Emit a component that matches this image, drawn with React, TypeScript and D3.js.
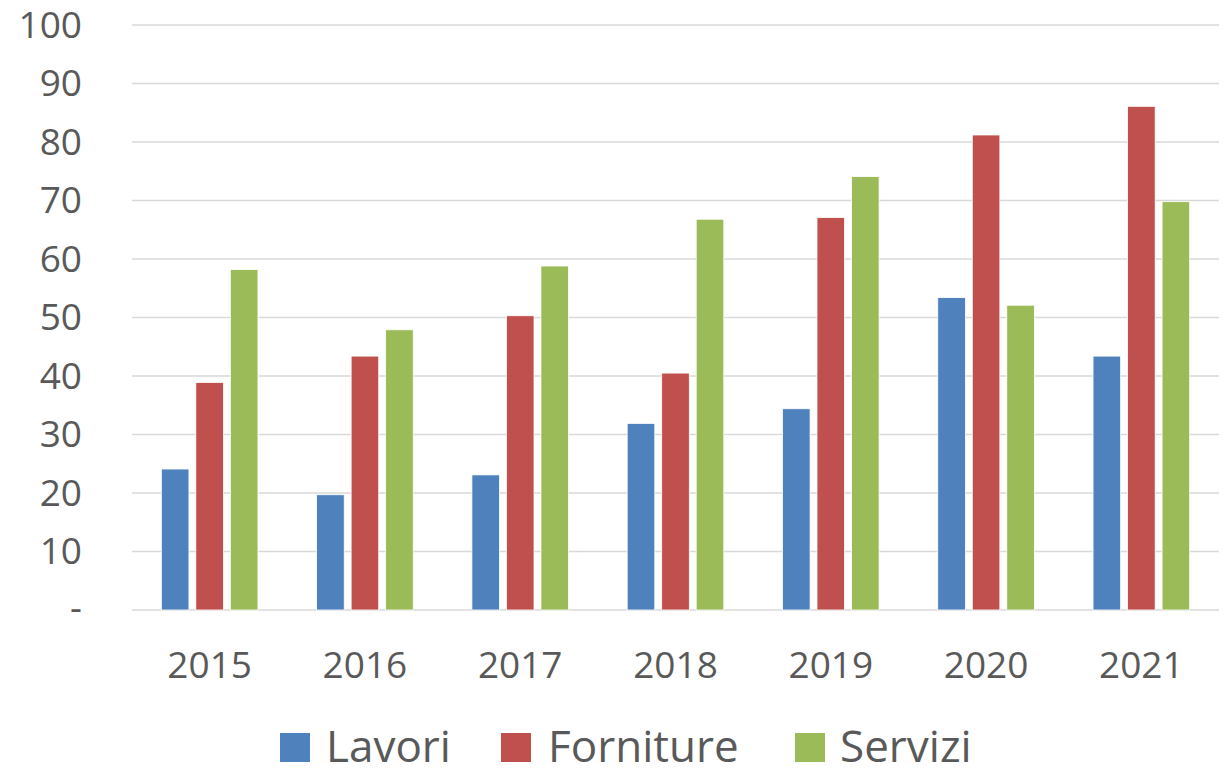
import React from "react";
import * as d3 from "d3";

const years = ["2015", "2016", "2017", "2018", "2019", "2020", "2021"];
const seriesNames = ["Lavori", "Forniture", "Servizi"];
const lavori = [24.1, 19.7, 23.1, 31.9, 34.4, 53.4, 43.4];
const forniture = [38.9, 43.4, 50.3, 40.5, 67.1, 81.2, 86.1];
const servizi = [58.2, 47.9, 58.8, 66.8, 74.1, 52.1, 69.8];
const yTicks = [0, 10, 20, 30, 40, 50, 60, 70, 80, 90, 100];
const colors = ["#4F81BD", "#C0504D", "#9BBB59"];

const W = 1232;
const H = 769;
const FONT = "'Open Sans', sans-serif";
const TEXT = "#595959";

export default function App() {
  const values = [lavori, forniture, servizi];
  const x0 = d3.scaleBand<string>().domain(years).range([132, 1219]).padding(0);
  const bw = x0.bandwidth();
  const x1 = d3
    .scaleBand<string>()
    .domain(seriesNames)
    .range([bw / 6, (bw * 5) / 6])
    .paddingInner(0.2)
    .paddingOuter(0.1);
  const y = d3.scaleLinear().domain([0, 100]).range([610, 25]);

  const legendItems = [
    { name: seriesNames[0], sx: 280, tx: 326 },
    { name: seriesNames[1], sx: 501, tx: 548 },
    { name: seriesNames[2], sx: 795, tx: 840 },
  ];

  return (
    <svg
      width={W}
      height={H}
      style={{ position: "absolute", left: 0, top: 0, display: "block", background: "#fff" }}
    >
      <rect x={0} y={0} width={W} height={H} fill="#fff" />
      {yTicks.map((t) => (
        <g key={t}>
          <line x1={132} x2={1219} y1={y(t)} y2={y(t)} stroke="#D9D9D9" strokeWidth={1.6} />
          <text
            x={82}
            y={y(t)}
            dy={t === 0 ? "0.3em" : "0.35em"}
            textAnchor="end"
            fontFamily={FONT}
            fontSize={37}
            fill={TEXT}
          >
            {t === 0 ? "-" : String(t)}
          </text>
        </g>
      ))}
      {years.map((yr, i) => (
        <g key={yr} transform={`translate(${x0(yr)},0)`}>
          {seriesNames.map((s, j) => (
            <rect
              key={s}
              x={x1(s)}
              y={y(values[j][i])}
              width={x1.bandwidth()}
              height={y(0) - y(values[j][i])}
              fill={colors[j]}
              stroke="#ffffff"
              strokeWidth={0.8}
            />
          ))}
          <text
            x={bw / 2}
            y={678}
            textAnchor="middle"
            fontFamily={FONT}
            fontSize={37}
            fill={TEXT}
          >
            {yr}
          </text>
        </g>
      ))}
      {legendItems.map((l, j) => (
        <g key={l.name}>
          <rect x={l.sx} y={733} width={30} height={29} fill={colors[j]} />
          <text x={l.tx} y={762} fontFamily={FONT} fontSize={44} fill={TEXT}>
            {l.name}
          </text>
        </g>
      ))}
    </svg>
  );
}
